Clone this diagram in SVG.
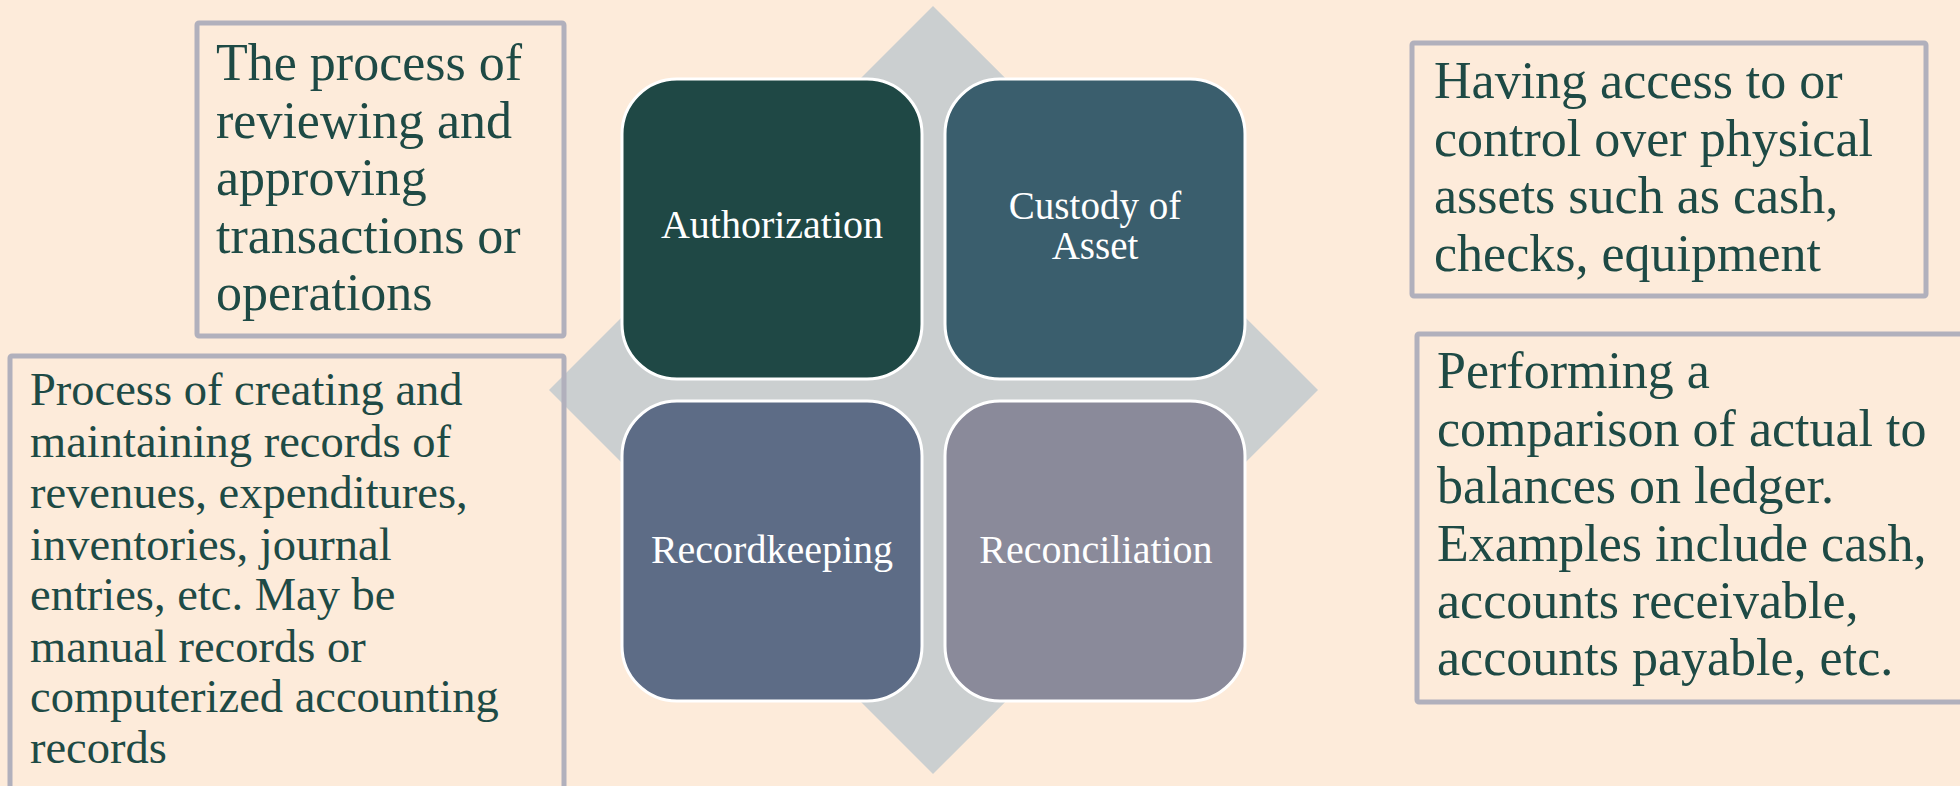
<svg xmlns="http://www.w3.org/2000/svg" width="1960" height="786" viewBox="0 0 1960 786">
<style>
.bg{fill:#FDEBDA}
.dia{fill:#CBCFD0}
.sq{stroke:#FFFFFF;stroke-width:3}
.lbl{font-family:"Liberation Serif","Times New Roman",serif;font-size:40px;fill:#FFFFFF;text-anchor:middle}
.lbl2{font-size:39px}
.box{fill:none;stroke:#B1B0BC;stroke-width:5}
.desc{font-family:"Liberation Serif","Times New Roman",serif;font-size:52px;fill:#1E4A45}
.desc2{font-family:"Liberation Serif","Times New Roman",serif;font-size:46.5px;fill:#1E4A45}
</style>
<rect class="bg" x="0" y="0" width="1960" height="786"/>
<g id="diamond">
<polygon class="dia" points="933,6 1318,390 933,774 549,390"/>
</g>
<g id="connectors"></g>
<g id="authorization">
<rect class="sq" x="622" y="79" width="300" height="300" rx="55" fill="#1F4845"/>
<text class="lbl" x="772" y="238">Authorization</text>
</g>
<g id="custody">
<rect class="sq" x="945" y="79" width="300" height="300" rx="55" fill="#3A5E6D"/>
<text class="lbl lbl2" x="1095" y="219">Custody of</text>
<text class="lbl lbl2" x="1095" y="259">Asset</text>
</g>
<g id="recordkeeping">
<rect class="sq" x="622" y="401" width="300" height="300" rx="55" fill="#5D6C86"/>
<text class="lbl" x="772" y="563">Recordkeeping</text>
</g>
<g id="reconciliation">
<rect class="sq" x="945" y="401" width="300" height="300" rx="55" fill="#8A8A9A"/>
<text class="lbl" x="1096" y="563">Reconciliation</text>
</g>
<g id="desc-authorization">
<rect class="box" x="197" y="23" width="367" height="313" rx="2"/>
<text class="desc" x="216" y="80">The process of</text>
<text class="desc" x="216" y="138">reviewing and</text>
<text class="desc" x="216" y="195">approving</text>
<text class="desc" x="216" y="253">transactions or</text>
<text class="desc" x="216" y="310">operations</text>
</g>
<g id="desc-recordkeeping">
<rect class="box" x="10" y="356" width="554" height="440" rx="2"/>
<text class="desc2" x="30" y="405">Process of creating and</text>
<text class="desc2" x="30" y="457">maintaining records of</text>
<text class="desc2" x="30" y="508">revenues, expenditures,</text>
<text class="desc2" x="30" y="560">inventories, journal</text>
<text class="desc2" x="30" y="610">entries, etc. May be</text>
<text class="desc2" x="30" y="662">manual records or</text>
<text class="desc2" x="30" y="712">computerized accounting</text>
<text class="desc2" x="30" y="763">records</text>
</g>
<g id="desc-custody">
<rect class="box" x="1412" y="43" width="514" height="253" rx="2"/>
<text class="desc" x="1434" y="98">Having access to or</text>
<text class="desc" x="1434" y="156">control over physical</text>
<text class="desc" x="1434" y="213">assets such as cash,</text>
<text class="desc" x="1434" y="271">checks, equipment</text>
</g>
<g id="desc-reconciliation">
<rect class="box" x="1417" y="334" width="560" height="368" rx="2"/>
<text class="desc" x="1437" y="388">Performing a</text>
<text class="desc" x="1437" y="446">comparison of actual to</text>
<text class="desc" x="1437" y="503">balances on ledger.</text>
<text class="desc" x="1437" y="561">Examples include cash,</text>
<text class="desc" x="1437" y="618">accounts receivable,</text>
<text class="desc" x="1437" y="675">accounts payable, etc.</text>
</g>
</svg>
